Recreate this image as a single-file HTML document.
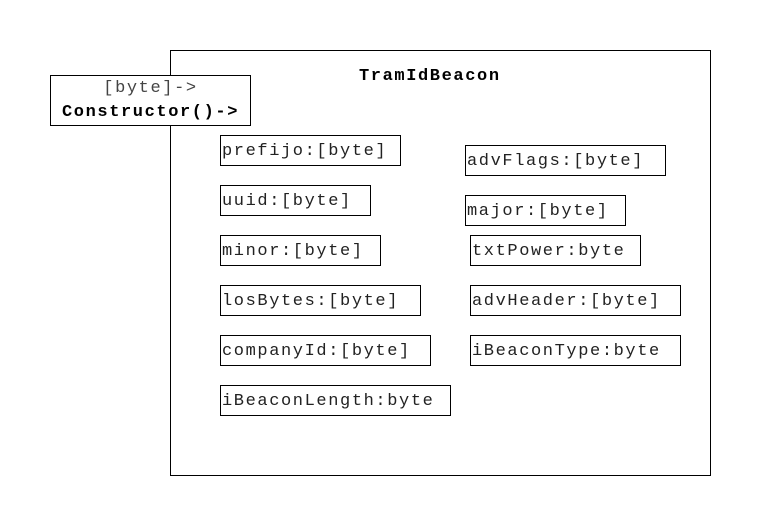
<!DOCTYPE html>
<html><head><style>
body{margin:0;width:761px;height:526px;background:#fff;position:relative;overflow:hidden;}
*{font-family:"Liberation Mono","DejaVu Sans Mono","Courier New",monospace;}
.b{position:absolute;border:1px solid #000;box-sizing:border-box;background:#fff;}
.a{font-size:17px;letter-spacing:1.6px;color:#222;line-height:32px;padding-left:1px;white-space:nowrap;}
.t{position:absolute;font-size:17px;letter-spacing:1.6px;font-weight:bold;white-space:nowrap;}
</style></head><body>
<div class="b" style="left:170px;top:50px;width:541px;height:426px"></div>
<div class="t" style="left:359px;top:67px">TramIdBeacon</div>
<div class="b" style="left:50px;top:75px;width:201px;height:51px;padding-top:1px;text-align:center;font-size:17px;letter-spacing:1.6px;line-height:24px;white-space:nowrap">
<div style="color:#444">[byte]-&gt;</div><div style="font-weight:bold">Constructor()-&gt;</div></div>
<div class="b a" style="left:220px;top:135px;width:181px;height:31px">prefijo:[byte]</div>
<div class="b a" style="left:220px;top:185px;width:151px;height:31px">uuid:[byte]</div>
<div class="b a" style="left:220px;top:235px;width:161px;height:31px">minor:[byte]</div>
<div class="b a" style="left:220px;top:285px;width:201px;height:31px">losBytes:[byte]</div>
<div class="b a" style="left:220px;top:335px;width:211px;height:31px">companyId:[byte]</div>
<div class="b a" style="left:220px;top:385px;width:231px;height:31px">iBeaconLength:byte</div>
<div class="b a" style="left:465px;top:145px;width:201px;height:31px">advFlags:[byte]</div>
<div class="b a" style="left:465px;top:195px;width:161px;height:31px">major:[byte]</div>
<div class="b a" style="left:470px;top:235px;width:171px;height:31px">txtPower:byte</div>
<div class="b a" style="left:470px;top:285px;width:211px;height:31px">advHeader:[byte]</div>
<div class="b a" style="left:470px;top:335px;width:211px;height:31px">iBeaconType:byte</div>
</body></html>
